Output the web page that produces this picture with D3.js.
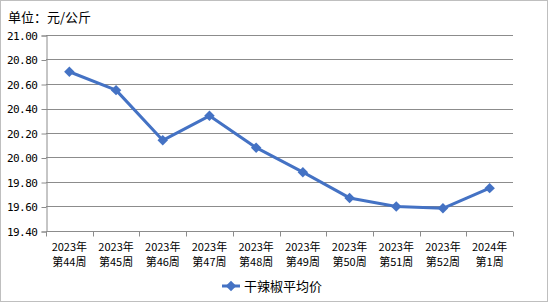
<!DOCTYPE html>
<html lang="zh">
<head>
<meta charset="UTF-8">
<title>干辣椒平均价</title>
<style>
  body { margin: 0; background: #fff; }
  text { font-family: "Noto Sans CJK SC", "DejaVu Sans", sans-serif; }
</style>
</head>
<body>
<div id="chart"></div>
<script src="https://d3js.org/d3.v7.min.js"></script>
<script>
const weeks = ["2023年\n第44周", "2023年\n第45周", "2023年\n第46周", "2023年\n第47周", "2023年\n第48周",
               "2023年\n第49周", "2023年\n第50周", "2023年\n第51周", "2023年\n第52周", "2024年\n第1周"];
const prices = [20.70, 20.55, 20.14, 20.34, 20.08, 19.88, 19.67, 19.60, 19.585, 19.75];
const yTicks = [19.40, 19.60, 19.80, 20.00, 20.20, 20.40, 20.60, 20.80, 21.00];
const seriesName = "干辣椒平均价";
const unitLabel = "单位：元/公斤";

const W = 548, H = 302;
const margin = { top: 35, right: 35, bottom: 71, left: 46 };
const color = "#4472C4";

const svg = d3.select("#chart").append("svg")
    .attr("width", W)
    .attr("height", H);

// outer frame
svg.append("rect")
    .attr("x", 0.5).attr("y", 0.5)
    .attr("width", W - 1).attr("height", H - 1)
    .attr("fill", "#fff").attr("stroke", "#bfbfbf");

svg.append("text")
    .attr("x", 8).attr("y", 22)
    .attr("font-size", 13)
    .attr("fill", "#000")
    .text(unitLabel);

const x = d3.scaleBand()
    .domain(weeks)
    .range([margin.left, W - margin.right]);

const y = d3.scaleLinear()
    .domain([19.4, 21.0])
    .range([H - margin.bottom, margin.top]);

// grid lines
svg.append("g")
    .selectAll("line")
    .data(yTicks)
    .join("line")
    .attr("x1", margin.left).attr("x2", W - margin.right)
    .attr("y1", d => Math.round(y(d)) + 0.5)
    .attr("y2", d => Math.round(y(d)) + 0.5)
    .attr("stroke", "#8c8c8c");

// y axis
const yAxis = svg.append("g")
    .attr("transform", `translate(${margin.left + 0.5},0.5)`)
    .call(d3.axisLeft(y).tickValues(yTicks).tickFormat(d3.format(".2f")).tickSize(5).tickPadding(4));
yAxis.selectAll("line, path").attr("stroke", "#8c8c8c");
yAxis.selectAll("text").attr("font-size", 11).attr("fill", "#000")
    .style("font-family", "'DejaVu Sans Mono', monospace").attr("letter-spacing", -0.5);

// x axis with ticks at category boundaries
const xAxisG = svg.append("g")
    .attr("transform", `translate(0,${Math.round(y(19.4)) + 0.5})`);
xAxisG.append("line")
    .attr("x1", margin.left).attr("x2", W - margin.right)
    .attr("stroke", "#8c8c8c");
const bounds = weeks.map(w => x(w)).concat([x(weeks[weeks.length - 1]) + x.bandwidth()]);
xAxisG.selectAll(".tk")
    .data(bounds)
    .join("line")
    .attr("x1", d => Math.round(d) + 0.5).attr("x2", d => Math.round(d) + 0.5)
    .attr("y1", 0).attr("y2", 5)
    .attr("stroke", "#8c8c8c");
const xLabels = xAxisG.selectAll(".lbl")
    .data(weeks)
    .join("text")
    .attr("text-anchor", "middle")
    .attr("font-size", 11)
    .attr("fill", "#000")
    .attr("x", d => x(d) + x.bandwidth() / 2);
xLabels.each(function(d) {
    const parts = d.split("\n");
    d3.select(this).selectAll("tspan")
        .data(parts)
        .join("tspan")
        .attr("x", x(d) + x.bandwidth() / 2)
        .attr("y", (p, i) => 19 + i * 15)
        .text(p => p);
});

// line
const line = d3.line()
    .x((d, i) => x(weeks[i]) + x.bandwidth() / 2)
    .y(d => y(d));

svg.append("path")
    .datum(prices)
    .attr("fill", "none")
    .attr("stroke", color)
    .attr("stroke-width", 3)
    .attr("stroke-linejoin", "round")
    .attr("d", line);

const diamond = d3.symbol().type(d3.symbolDiamond2).size(70);
svg.append("g")
    .selectAll("path")
    .data(prices)
    .join("path")
    .attr("d", diamond)
    .attr("transform", (d, i) => `translate(${x(weeks[i]) + x.bandwidth() / 2},${y(d)})`)
    .attr("fill", color);

// legend
const lg = svg.append("g").attr("transform", "translate(222,286)");
lg.append("line")
    .attr("x1", 0).attr("x2", 18)
    .attr("stroke", color).attr("stroke-width", 3);
lg.append("path")
    .attr("d", diamond)
    .attr("transform", "translate(9,0)")
    .attr("fill", color);
lg.append("text")
    .attr("x", 22).attr("y", 5)
    .attr("font-size", 13)
    .attr("fill", "#000")
    .text(seriesName);
</script>
</body>
</html>
